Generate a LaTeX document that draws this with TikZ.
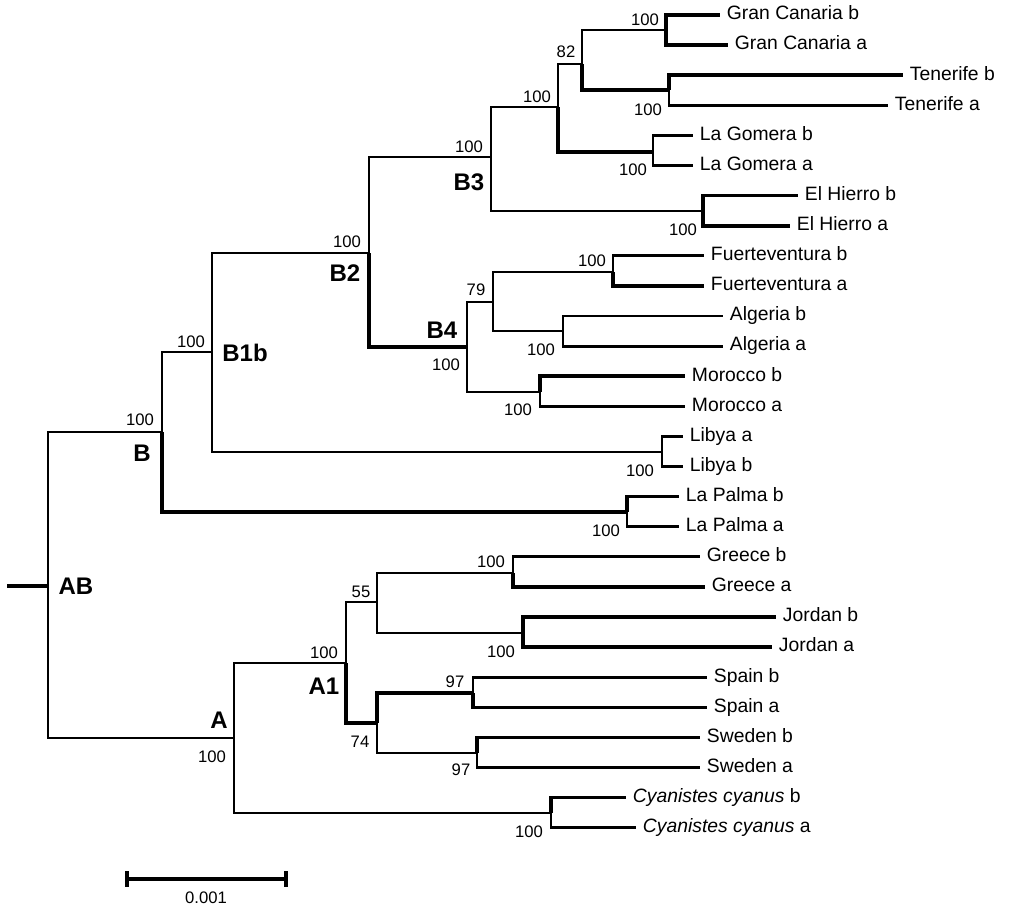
\documentclass[tikz,border=0pt]{standalone}
\usepackage{fontspec}
\setmainfont{Liberation Sans}
\usetikzlibrary{calc}

\begin{document}
\begin{tikzpicture}[
        x=0.75pt, y=-0.75pt,
        branch/.style={line width=2.1pt},
        heavy/.style={line width=2.7pt},
        leaf/.style={anchor=west, inner xsep=5pt, inner ysep=0pt, text height=0.72em, text depth=0pt,
            font=\fontsize{14.5}{16}\selectfont},
        boot/.style={inner sep=0pt, font=\fontsize{12.5}{14}\selectfont},
        clade/.style={inner sep=0pt, font=\fontsize{18}{20}\selectfont\bfseries},
    ]
    \useasboundingbox (0,0) rectangle (1024,910);

    % Internal nodes
    \coordinate (root) at (7,586);
    \coordinate (nAB) at (48,586);
    \coordinate (nB) at (162,432);
    \coordinate (nB1b) at (212,352);
    \coordinate (nB2) at (369,253);
    \coordinate (nB3) at (491,157);
    \coordinate (nB3u) at (558,107);
    \coordinate (n82) at (582,64);
    \coordinate (nGC) at (666,30);
    \coordinate (nTe) at (669,90);
    \coordinate (nLG) at (653,152);
    \coordinate (nEH) at (703,211);
    \coordinate (nB4) at (467,347);
    \coordinate (n79) at (493,302);
    \coordinate (nFu) at (613,272);
    \coordinate (nAl) at (563,331);
    \coordinate (nMo) at (540,392);
    \coordinate (nLi) at (662,452);
    \coordinate (nLP) at (627,512);
    \coordinate (nA) at (234,738);
    \coordinate (nA1) at (346,663);
    \coordinate (n55) at (377,602);
    \coordinate (nGr) at (513,573);
    \coordinate (nJo) at (523,633);
    \coordinate (n74) at (377,723);
    \coordinate (nSp) at (473,693);
    \coordinate (nSw) at (477,753);
    \coordinate (nCy) at (551,813);

    % Leaves
    \node[leaf] (gcb) at (720,15.0) {Gran Canaria b};
    \node[leaf] (gca) at (728,45.1) {Gran Canaria a};
    \node[leaf] (teb) at (903,75.2) {Tenerife b};
    \node[leaf] (tea) at (888,105.3) {Tenerife a};
    \node[leaf] (lgb) at (693,135.4) {La Gomera b};
    \node[leaf] (lga) at (693,165.5) {La Gomera a};
    \node[leaf] (ehb) at (798,195.6) {El Hierro b};
    \node[leaf] (eha) at (790,225.7) {El Hierro a};
    \node[leaf] (fub) at (704,255.8) {Fuerteventura b};
    \node[leaf] (fua) at (704,285.9) {Fuerteventura a};
    \node[leaf] (alb) at (723,316.0) {Algeria b};
    \node[leaf] (ala) at (723,346.1) {Algeria a};
    \node[leaf] (mob) at (685,376.2) {Morocco b};
    \node[leaf] (moa) at (685,406.3) {Morocco a};
    \node[leaf] (lia) at (683,436.4) {Libya a};
    \node[leaf] (lib) at (683,466.5) {Libya b};
    \node[leaf] (lpb) at (679,496.6) {La Palma b};
    \node[leaf] (lpa) at (679,526.7) {La Palma a};
    \node[leaf] (grb) at (700,556.8) {Greece b};
    \node[leaf] (gra) at (705,586.9) {Greece a};
    \node[leaf] (job) at (776,617.0) {Jordan b};
    \node[leaf] (joa) at (772,647.1) {Jordan a};
    \node[leaf] (spb) at (707,677.2) {Spain b};
    \node[leaf] (spa) at (707,707.3) {Spain a};
    \node[leaf] (swb) at (700,737.4) {Sweden b};
    \node[leaf] (swa) at (700,767.5) {Sweden a};
    \node[leaf] (cyb) at (626,797.6) {\textit{Cyanistes cyanus} b};
    \node[leaf] (cya) at (636,827.7) {\textit{Cyanistes cyanus} a};

    % Branches
    \draw[heavy] (root) -- (nAB);
    \draw[branch] (nAB) |- (nB);
    \draw[branch] (nAB) |- (nA);
    \draw[branch] (nB) |- (nB1b);
    \draw[heavy] (nB) |- (nLP);
    \draw[branch] (nB1b) |- (nB2);
    \draw[branch] (nB1b) |- (nLi);
    \draw[branch] (nB2) |- (nB3);
    \draw[heavy] (nB2) |- (nB4);
    \draw[branch] (nB3) |- (nB3u);
    \draw[branch] (nB3) |- (nEH);
    \draw[branch] (nB3u) |- (n82);
    \draw[heavy] (nB3u) |- (nLG);
    \draw[branch] (n82) |- (nGC);
    \draw[heavy] (n82) |- (nTe);
    \draw[heavy] (nGC) |- (gcb.west);
    \draw[heavy] (nGC) |- (gca.west);
    \draw[heavy] (nTe) |- (teb.west);
    \draw[branch] (nTe) |- (tea.west);
    \draw[branch] (nLG) |- (lgb.west);
    \draw[branch] (nLG) |- (lga.west);
    \draw[heavy] (nEH) |- (ehb.west);
    \draw[heavy] (nEH) |- (eha.west);
    \draw[branch] (nB4) |- (n79);
    \draw[branch] (nB4) |- (nMo);
    \draw[branch] (n79) |- (nFu);
    \draw[branch] (n79) |- (nAl);
    \draw[branch] (nFu) |- (fub.west);
    \draw[heavy] (nFu) |- (fua.west);
    \draw[branch] (nAl) |- (alb.west);
    \draw[branch] (nAl) |- (ala.west);
    \draw[heavy] (nMo) |- (mob.west);
    \draw[branch] (nMo) |- (moa.west);
    \draw[branch] (nLi) |- (lia.west);
    \draw[branch] (nLi) |- (lib.west);
    \draw[heavy] (nLP) |- (lpb.west);
    \draw[branch] (nLP) |- (lpa.west);
    \draw[branch] (nA) |- (nA1);
    \draw[branch] (nA) |- (nCy);
    \draw[branch] (nA1) |- (n55);
    \draw[heavy] (nA1) |- (n74);
    \draw[branch] (n55) |- (nGr);
    \draw[branch] (n55) |- (nJo);
    \draw[branch] (nGr) |- (grb.west);
    \draw[heavy] (nGr) |- (gra.west);
    \draw[heavy] (nJo) |- (job.west);
    \draw[heavy] (nJo) |- (joa.west);
    \draw[heavy] (n74) |- (nSp);
    \draw[branch] (n74) |- (nSw);
    \draw[branch] (nSp) |- (spb.west);
    \draw[heavy] (nSp) |- (spa.west);
    \draw[heavy] (nSw) |- (swb.west);
    \draw[branch] (nSw) |- (swa.west);
    \draw[heavy] (nCy) |- (cyb.west);
    \draw[branch] (nCy) |- (cya.west);

    % Bootstrap values
    \node[boot] (bGC) at (645,20) {100};
    \node[boot] (b82) at (566,52) {82};
    \node[boot] (bB3u) at (537,97) {100};
    \node[boot] (bTe) at (648,110) {100};
    \node[boot] (bLG) at (633,170) {100};
    \node[boot] (bEH) at (683,230) {100};
    \node[boot] (bB3) at (469,147) {100};
    \node[boot] (bB2) at (347,242) {100};
    \node[boot] (bFu) at (592,261) {100};
    \node[boot] (b79) at (476,290) {79};
    \node[boot] (bB4) at (446,365) {100};
    \node[boot] (bAl) at (541,350) {100};
    \node[boot] (bMo) at (518,410) {100};
    \node[boot] (bLi) at (640,471) {100};
    \node[boot] (bLP) at (606,531) {100};
    \node[boot] (bB1b) at (191,342) {100};
    \node[boot] (bB) at (140,420) {100};
    \node[boot] (bGr) at (491,562) {100};
    \node[boot] (b55) at (361,592) {55};
    \node[boot] (bJo) at (501,652) {100};
    \node[boot] (bA1) at (324,653) {100};
    \node[boot] (bSp) at (455,682) {97};
    \node[boot] (b74) at (360,742) {74};
    \node[boot] (bSw) at (461,770) {97};
    \node[boot] (bA) at (212,757) {100};
    \node[boot] (bCy) at (529,832) {100};

    % Clade names
    \node[clade] (cB3) at (469,182) {B3};
    \node[clade] (cB2) at (345,273) {B2};
    \node[clade] (cB4) at (442,330) {B4};
    \node[clade] (cB1b) at (245,353) {B1b};
    \node[clade] (cB) at (142,453) {B};
    \node[clade] (cAB) at (76,586) {AB};
    \node[clade] (cA1) at (324,686) {A1};
    \node[clade] (cA) at (219,720) {A};

    % Scale bar
    \coordinate (sL) at (127,879);
    \coordinate (sR) at (286,879);
    \draw[heavy] (sL) -- (sR);
    \draw[heavy] ($(sL)+(0,-8)$) -- ($(sL)+(0,8)$);
    \draw[heavy] ($(sR)+(0,-8)$) -- ($(sR)+(0,8)$);
    \node[boot] (sLab) at (206,898) {0.001};

\end{tikzpicture}
\end{document}
